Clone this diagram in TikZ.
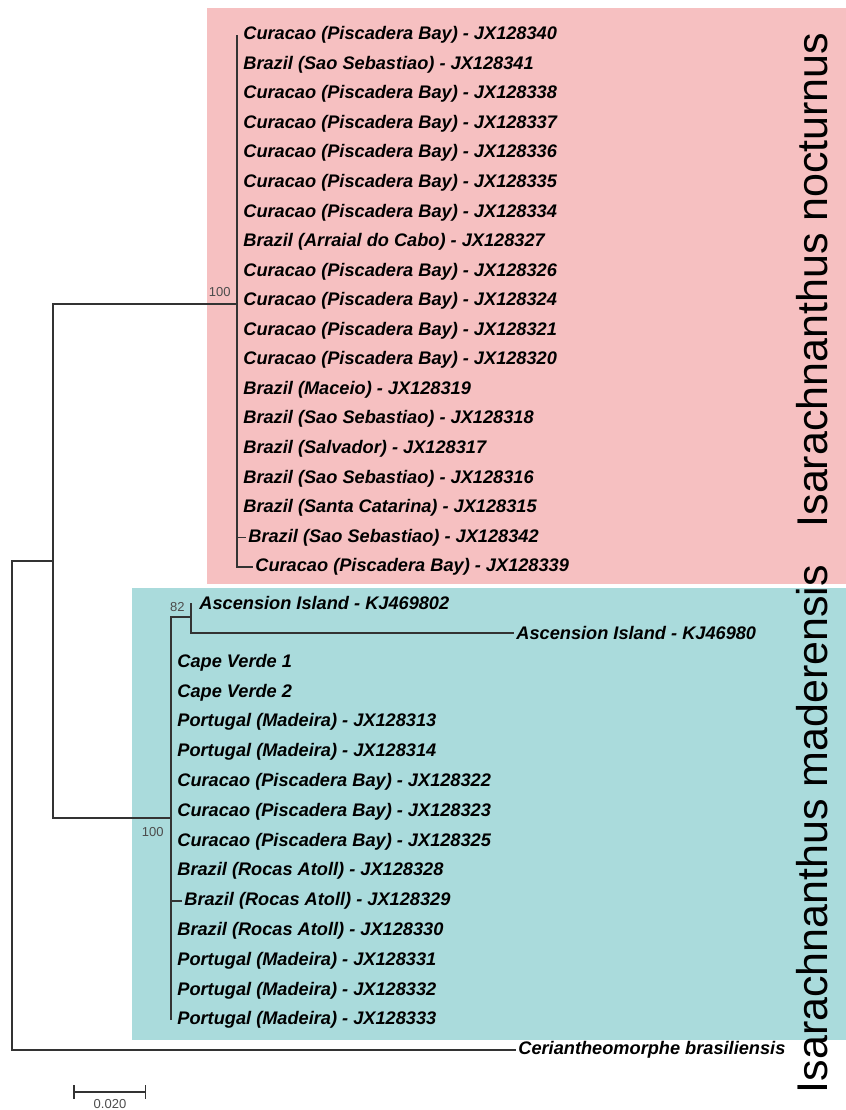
\documentclass[tikz,border=0pt]{standalone}
\usepackage{fontspec}
\setmainfont{Liberation Sans}
\definecolor{noctpink}{RGB}{246,192,193}
\definecolor{madteal}{RGB}{170,219,220}
\tikzset{
    branch/.style={draw=black!80,line width=0.75pt},
    leaf/.style={anchor=west,inner sep=1pt,font=\fontsize{9.1}{11}\selectfont\bfseries\itshape},
    boot/.style={anchor=east,inner sep=1pt,text=black!70,font=\fontsize{6.5}{8}\selectfont},
    clade/.style={rotate=90,inner sep=0pt,font=\fontsize{21.5}{24}\selectfont},
}
\begin{document}
\begin{tikzpicture}[x=0.5pt,y=-0.5pt]
    \useasboundingbox (0,0) rectangle (846,1110);
    \fill[noctpink] (207,8) rectangle (846,584);
    \fill[madteal] (132,588) rectangle (846,1040);
    % I. nocturnus
    \foreach \x/\lbl [count=\i] in {
        241/Curacao (Piscadera Bay) - JX128340,
        241/Brazil (Sao Sebastiao) - JX128341,
        241/Curacao (Piscadera Bay) - JX128338,
        241/Curacao (Piscadera Bay) - JX128337,
        241/Curacao (Piscadera Bay) - JX128336,
        241/Curacao (Piscadera Bay) - JX128335,
        241/Curacao (Piscadera Bay) - JX128334,
        241/Brazil (Arraial do Cabo) - JX128327,
        241/Curacao (Piscadera Bay) - JX128326,
        241/Curacao (Piscadera Bay) - JX128324,
        241/Curacao (Piscadera Bay) - JX128321,
        241/Curacao (Piscadera Bay) - JX128320,
        241/Brazil (Maceio) - JX128319,
        241/Brazil (Sao Sebastiao) - JX128318,
        241/Brazil (Salvador) - JX128317,
        241/Brazil (Sao Sebastiao) - JX128316,
        241/Brazil (Santa Catarina) - JX128315,
        246/Brazil (Sao Sebastiao) - JX128342,
        253/Curacao (Piscadera Bay) - JX128339} {
        \node[leaf] (p\i) at (\x,{35+(\i-1)*29.56}) {\lbl};
    }
    % I. maderensis
    \foreach \x/\lbl [count=\i] in {
        197/Ascension Island - KJ469802,
        514/Ascension Island - KJ46980,
        175/Cape Verde 1,
        175/Cape Verde 2,
        175/Portugal (Madeira) - JX128313,
        175/Portugal (Madeira) - JX128314,
        175/Curacao (Piscadera Bay) - JX128322,
        175/Curacao (Piscadera Bay) - JX128323,
        175/Curacao (Piscadera Bay) - JX128325,
        175/Brazil (Rocas Atoll) - JX128328,
        182/Brazil (Rocas Atoll) - JX128329,
        175/Brazil (Rocas Atoll) - JX128330,
        175/Portugal (Madeira) - JX128331,
        175/Portugal (Madeira) - JX128332,
        175/Portugal (Madeira) - JX128333} {
        \node[leaf] (t\i) at (\x,{603+(\i-1)*29.8}) {\lbl};
    }
    \node[leaf] (og) at (516,1050) {Ceriantheomorphe brasiliensis};

    \coordinate (nA) at (237,304);
    \coordinate (nB) at (171,818);
    \coordinate (nC) at (191,617);
    \coordinate (nD) at (53,561);
    \coordinate (nR) at (12,805);

    \draw[branch] (nA |- p1.west) -- (nA |- p19.west) -- (p19.west);
    \draw[branch] (nA |- p18.west) -- (p18.west);
    \draw[branch] (nC |- t1.west) -- (nC |- t2.west) -- (t2.west);
    \draw[branch] (nC) -- (nB |- nC) -- (nB |- t15.west);
    \draw[branch] (nB |- t11.west) -- (t11.west);
    \draw[branch] (nA) -- (nD |- nA) -- (nD |- nB) -- (nB);
    \draw[branch] (nD) -- (nR |- nD) -- (nR |- og.west) -- (og.west);

    \node[boot] (bs1) at (233,292) {100};
    \node[boot] (bs2) at (187,607) {82};
    \node[boot] (bs3) at (166,832) {100};

    \node[clade] (cn1) at (812,280) {Isarachnanthus nocturnus};
    \node[clade] (cn2) at (812,829) {Isarachnanthus maderensis};

    % scale
    \coordinate (sbl) at (73,1092);
    \coordinate (sbr) at (146,1092);
    \draw[branch,|-|] (sbl) -- (sbr);
    \node[boot,anchor=north] (sbt) at (110,1097) {0.020};
\end{tikzpicture}
\end{document}
